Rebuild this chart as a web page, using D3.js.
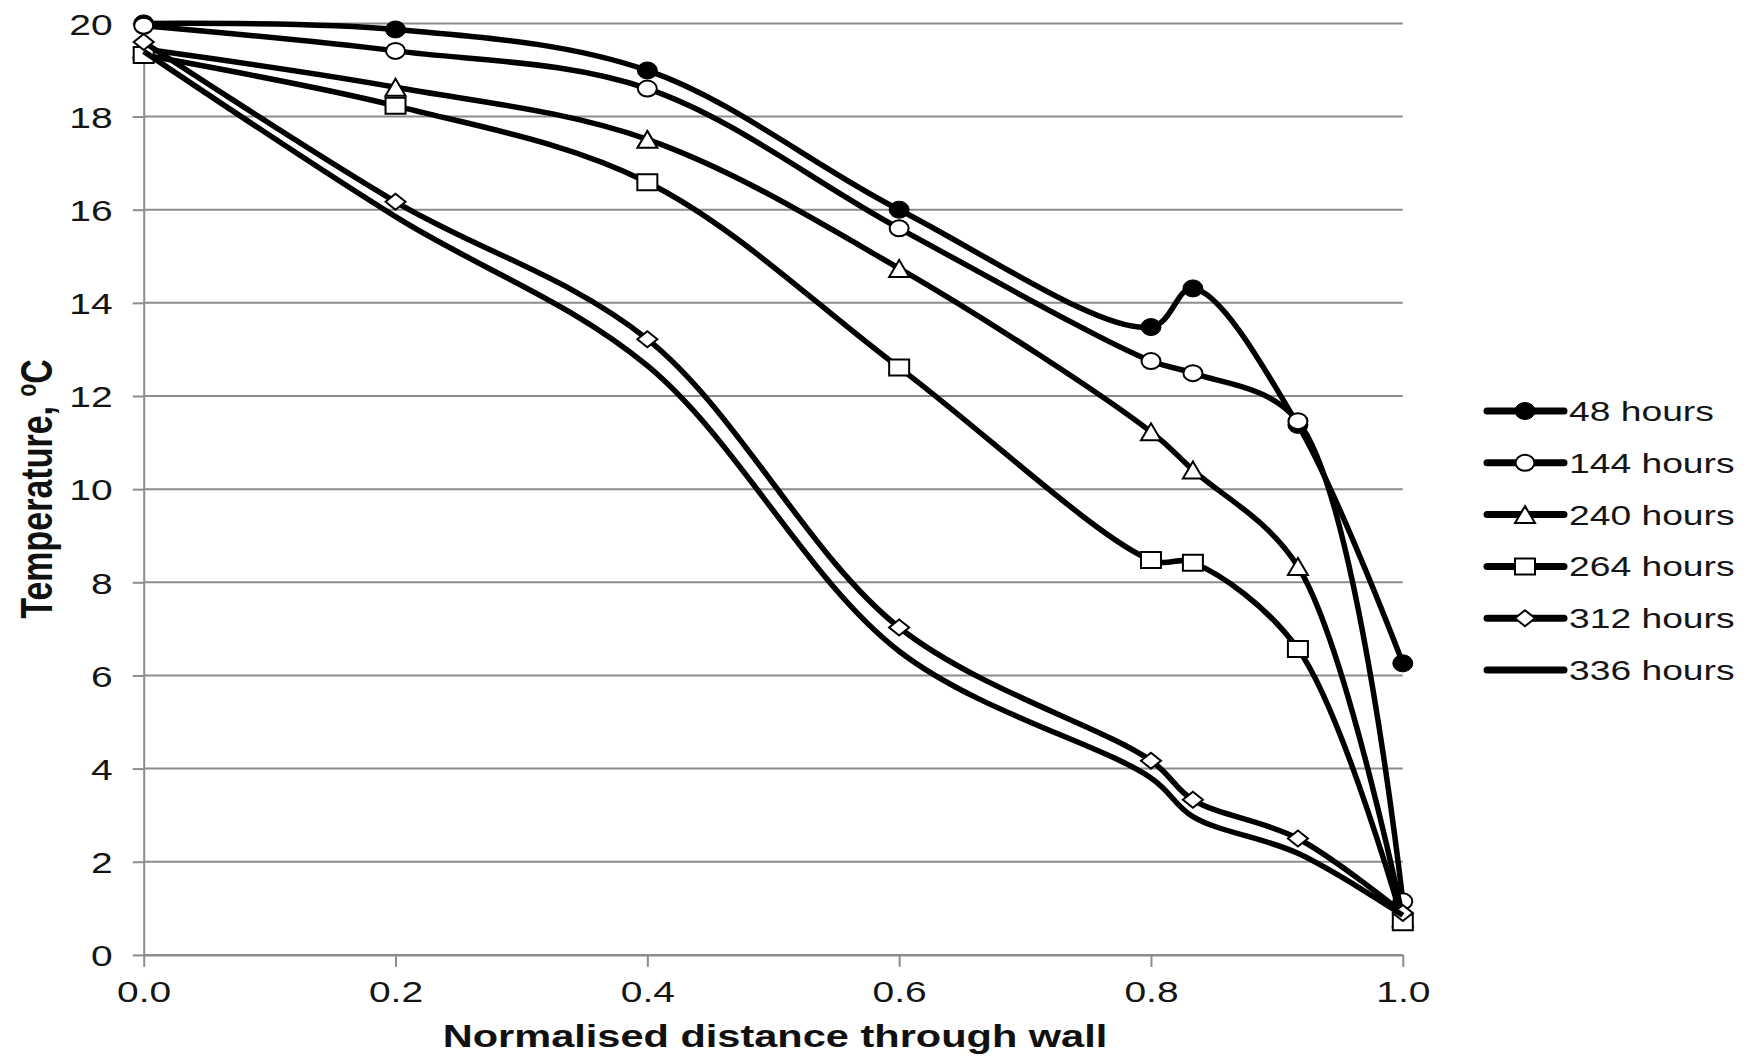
<!DOCTYPE html>
<html lang="en">
<head>
<meta charset="UTF-8">
<title>Temperature through wall</title>
<script src="https://cdn.jsdelivr.net/npm/d3@7"></script>
<style>
  body { margin: 0; background: #fff; }
  svg { display: block; font-family: "Liberation Sans", Arial, sans-serif; }
</style>
</head>
<body>
<div id="chart"></div>
<script>
// data
var xValues = [0, 0.2, 0.4, 0.6, 0.8, 0.8333, 0.9167, 1.0];
var seriesNames = ["48 hours", "144 hours", "240 hours", "264 hours", "312 hours", "336 hours"];
var h48  = [20.0, 19.87, 18.99, 16.0, 13.48, 14.31, 11.38, 6.26];
var h144 = [19.95, 19.41, 18.6, 15.6, 12.75, 12.49, 11.46, 1.15];
var h240 = [19.45, 18.63, 17.51, 14.74, 11.23, 10.41, 8.34, 0.8];
var h264 = [19.32, 18.23, 16.59, 12.61, 8.48, 8.42, 6.57, 0.7];
var h312 = [19.6, 16.17, 13.22, 7.03, 4.17, 3.33, 2.5, 0.9];
var h336 = [19.4, 15.85, 12.65, 6.52, 3.8, 2.97, 2.18, 0.85];
var markerTypes = ["dot", "circle", "triangle", "square", "diamond", "none"];
var xTicks = [0, 0.2, 0.4, 0.6, 0.8, 1.0];
var yTicks = [0, 2, 4, 6, 8, 10, 12, 14, 16, 18, 20];

var W = 1747, H = 1058;

var svg = d3.select("#chart").append("svg")
    .attr("width", W)
    .attr("height", H);

var x = d3.scaleLinear().domain([0, 1]).range([143.7, 1402.8]);
var y = d3.scaleLinear().domain([0, 20]).range([954.9, 23.4]);

var grey = "#8c8c8c";

// gridlines
svg.append("g").selectAll("line")
    .data(yTicks)
    .enter().append("line")
    .attr("x1", x(0)).attr("x2", x(1))
    .attr("y1", function(d){ return y(d); })
    .attr("y2", function(d){ return y(d); })
    .attr("stroke", grey)
    .attr("stroke-width", 2);

// y axis
var yAxis = svg.append("g")
    .attr("transform", "translate(" + x(0) + ",0)")
    .call(d3.axisLeft(y).tickValues(yTicks).tickSize(11).tickSizeOuter(0));
yAxis.select(".domain").attr("stroke", grey).attr("stroke-width", 2);
yAxis.selectAll(".tick line").attr("stroke", grey).attr("stroke-width", 2);
yAxis.selectAll(".tick text")
    .attr("x", -31 / 1.3)
    .attr("dy", "0.36em")
    .attr("transform", "scale(1.3,1)")
    .attr("fill", "#151515")
    .style("font-size", "30px")
    .style("font-family", "'Liberation Sans', Arial, sans-serif");

// x axis
var xAxis = svg.append("g")
    .attr("transform", "translate(0," + y(0) + ")")
    .call(d3.axisBottom(x).tickValues(xTicks).tickSize(12).tickSizeOuter(0)
        .tickFormat(d3.format(".1f")));
xAxis.select(".domain").attr("stroke", grey).attr("stroke-width", 2);
xAxis.selectAll(".tick line").attr("stroke", grey).attr("stroke-width", 2);
xAxis.selectAll(".tick text")
    .attr("y", 47)
    .attr("dy", 0)
    .attr("transform", "scale(1.3,1)")
    .attr("fill", "#151515")
    .style("font-size", "30px")
    .style("font-family", "'Liberation Sans', Arial, sans-serif");

// axis titles
svg.append("text")
    .attr("transform", "translate(775,1047) scale(1.34,1)")
    .attr("text-anchor", "middle")
    .attr("font-weight", "bold")
    .attr("font-size", 31)
    .attr("fill", "#111")
    .text("Normalised distance through wall");

var yt = svg.append("text")
    .attr("transform", "translate(52,489) scale(1.33,1) rotate(-90)")
    .attr("text-anchor", "middle")
    .attr("font-weight", "bold")
    .attr("font-size", 34)
    .attr("fill", "#111");
yt.append("tspan").text("Temperature, ");
yt.append("tspan").attr("font-size", 21).attr("dy", -12).text("o");
yt.append("tspan").attr("dy", 12).text("C");

// marker shapes
function markerPath(type, w, h) {
    if (type === "dot" || type === "circle") {
        return "M" + (-w/2) + ",0A" + (w/2) + "," + (h/2) + " 0 1,0 " + (w/2) + ",0A" +
            (w/2) + "," + (h/2) + " 0 1,0 " + (-w/2) + ",0Z";
    }
    if (type === "triangle") {
        return "M0," + (-h/2) + "L" + (w/2) + "," + (h/2) + "L" + (-w/2) + "," + (h/2) + "Z";
    }
    if (type === "square") {
        return "M" + (-w/2) + "," + (-h/2) + "H" + (w/2) + "V" + (h/2) + "H" + (-w/2) + "Z";
    }
    if (type === "diamond") {
        return "M0," + (-h/2) + "L" + (w/2) + ",0L0," + (h/2) + "L" + (-w/2) + ",0Z";
    }
    return "";
}
var markerSize = {
    dot: [20, 17], circle: [19, 16], triangle: [20, 17], square: [20, 16], diamond: [20, 16]
};
function styleMarker(sel, type) {
    sel.attr("d", markerPath(type, markerSize[type][0], markerSize[type][1]))
        .attr("fill", type === "dot" ? "#000" : "#fff")
        .attr("stroke", "#000")
        .attr("stroke-width", type === "dot" ? 1 : 2);
}

var allSeries = [h48, h144, h240, h264, h312, h336];
var line = d3.line()
    .x(function(d, i){ return x(xValues[i]); })
    .y(function(d){ return y(d); })
    .curve(d3.curveCatmullRom.alpha(0.5));

allSeries.forEach(function(vals, s) {
    var g = svg.append("g");
    g.append("path")
        .attr("d", line(vals))
        .attr("fill", "none")
        .attr("stroke", "#000")
        .attr("stroke-width", 5.5)
        .attr("stroke-linejoin", "round");
    var type = markerTypes[s];
    if (type !== "none") {
        g.selectAll(".m")
            .data(vals)
            .enter().append("path")
            .attr("class", "m")
            .attr("transform", function(d, i){ return "translate(" + x(xValues[i]) + "," + y(d) + ")"; })
            .call(styleMarker, type);
    }
});

// legend
var legend = svg.append("g").selectAll("g")
    .data(seriesNames)
    .enter().append("g")
    .attr("transform", function(d, i){ return "translate(0," + (411 + i * 51.8) + ")"; });
legend.append("line")
    .attr("x1", 1487).attr("x2", 1564)
    .attr("stroke", "#000")
    .attr("stroke-width", 7)
    .attr("stroke-linecap", "round");
legend.each(function(d, i) {
    var type = markerTypes[i];
    if (type !== "none") {
        d3.select(this).append("path")
            .attr("transform", "translate(1525,0)")
            .call(styleMarker, type);
    }
});
legend.append("text")
    .attr("transform", "translate(1569,10) scale(1.33,1)")
    .attr("font-size", 28)
    .attr("fill", "#151515")
    .text(function(d){ return d; });
</script>
</body>
</html>
